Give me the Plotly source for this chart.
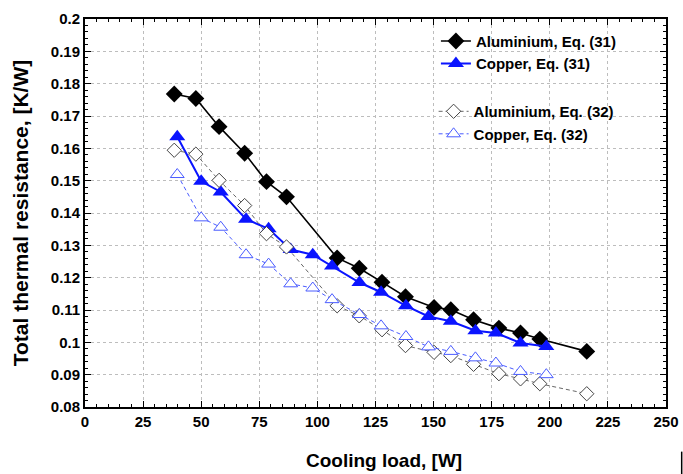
import plotly.graph_objects as go

# Cooling load [W] at each measurement, per heat-sink material
load_al = [38.4, 47.7, 57.7, 68.7, 78.1, 86.7, 108.5, 118.0, 127.8, 137.9,
           150.2, 157.4, 167.2, 178.1, 187.4, 195.7, 215.9]
load_cu = [39.7, 50.0, 58.4, 69.3, 79.0, 88.5, 98.0, 106.3, 118.1, 127.4,
           138.1, 147.8, 157.4, 168.0, 176.8, 187.4, 198.5]

# Total thermal resistance [K/W]
r_al_31 = [0.1768, 0.1754, 0.1667, 0.1585, 0.1497, 0.1450, 0.1261, 0.1229,
           0.1186, 0.1141, 0.1108, 0.1101, 0.1070, 0.1044, 0.1029, 0.1010, 0.0972]
r_cu_31 = [0.1636, 0.1498, 0.1465, 0.1381, 0.1351, 0.1287, 0.1271, 0.1236,
           0.1185, 0.1155, 0.1113, 0.1080, 0.1065, 0.1036, 0.1029, 0.0998, 0.0987]
r_al_32 = [0.1594, 0.1582, 0.1501, 0.1423, 0.1336, 0.1295, 0.1113, 0.1082,
           0.1039, 0.0990, 0.0969, 0.0959, 0.0932, 0.0903, 0.0887, 0.0872, 0.0841]
r_cu_32 = [0.1519, 0.1385, 0.1356, 0.1271, 0.1242, 0.1181, 0.1168, 0.1132,
           0.1086, 0.1051, 0.1018, 0.0986, 0.0972, 0.0952, 0.0936, 0.0910, 0.0900]

x_ticks = [0, 25, 50, 75, 100, 125, 150, 175, 200, 225, 250]
y_ticks = [0.08, 0.09, 0.1, 0.11, 0.12, 0.13, 0.14, 0.15, 0.16, 0.17, 0.18, 0.19, 0.2]
y_tick_text = ["0.08", "0.09", "0.1", "0.11", "0.12", "0.13", "0.14", "0.15",
               "0.16", "0.17", "0.18", "0.19", "0.2"]

x_title = "Cooling load, [W]"
y_title = "Total thermal resistance, [K/W]"

FONT = "Liberation Sans, Arial, sans-serif"

fig = go.Figure()

fig.add_trace(go.Scatter(
    x=load_al, y=r_al_31, mode="lines+markers", name="Aluminium, Eq. (31)",
    line=dict(color="black", width=1.6),
    marker=dict(symbol="diamond", size=13, color="black"),
    legend="legend"))
fig.add_trace(go.Scatter(
    x=load_cu, y=r_cu_31, mode="lines+markers", name="Copper, Eq. (31)",
    line=dict(color="#0a14ff", width=2),
    marker=dict(symbol="triangle-up", size=14, color="#0a14ff"),
    legend="legend"))
fig.add_trace(go.Scatter(
    x=load_al, y=r_al_32, mode="lines+markers", name="Aluminium, Eq. (32)",
    line=dict(color="#666666", width=1, dash="4px,3px"),
    marker=dict(symbol="diamond", size=11, color="white",
                line=dict(color="#444444", width=1)),
    legend="legend2"))
fig.add_trace(go.Scatter(
    x=load_cu, y=r_cu_32, mode="lines+markers", name="Copper, Eq. (32)",
    line=dict(color="#4a5cff", width=1, dash="4px,3px"),
    marker=dict(symbol="triangle-up", size=12, color="white",
                line=dict(color="#4a5cff", width=1)),
    legend="legend2"))

axis_common = dict(
    showline=True, linecolor="black", linewidth=2, mirror="allticks",
    ticks="inside", ticklen=6, tickwidth=1, tickcolor="black",
    showgrid=True, gridcolor="#bdbdbd", griddash="dot", gridwidth=1,
    zeroline=False, automargin=False,
    tickfont=dict(family=FONT, size=15, color="black", weight="bold"),
)

fig.update_xaxes(
    range=[0, 250], tickmode="array", tickvals=x_ticks,
    minor=dict(ticks="inside", dtick=5, ticklen=3, tickcolor="black", showgrid=False),
    **axis_common)
fig.update_yaxes(
    range=[0.08, 0.2], tickmode="array", tickvals=y_ticks, ticktext=y_tick_text,
    minor=dict(ticks="inside", dtick=0.002, ticklen=3, tickcolor="black", showgrid=False),
    title=dict(text=y_title, standoff=16,
               font=dict(family=FONT, size=21, color="black", weight="bold")),
    **axis_common)

legend_font = dict(family=FONT, size=15, color="black", weight="bold")
fig.update_layout(
    width=683, height=474,
    margin=dict(l=85, r=17, t=19, b=67),
    paper_bgcolor="white", plot_bgcolor="white",
    legend=dict(x=0.604, y=0.985, xanchor="left", yanchor="top",
                bgcolor="rgba(0,0,0,0)", font=legend_font, tracegroupgap=0),
    legend2=dict(x=0.600, y=0.804, xanchor="left", yanchor="top",
                 bgcolor="rgba(0,0,0,0)", font=legend_font, tracegroupgap=0),
)

# x-axis title, set slightly right of the plot centre
fig.add_annotation(text=x_title, xref="paper", yref="paper",
                   x=0.515, y=-0.139, xanchor="center", yanchor="middle",
                   showarrow=False,
                   font=dict(family=FONT, size=19, color="black", weight="bold"))

# small vertical rule at the lower right edge
fig.add_shape(type="line", xref="paper", yref="paper",
              x0=1.027, x1=1.027, y0=-0.115, y1=-0.175,
              line=dict(color="black", width=1.5))

fig.write_html("out.html")
